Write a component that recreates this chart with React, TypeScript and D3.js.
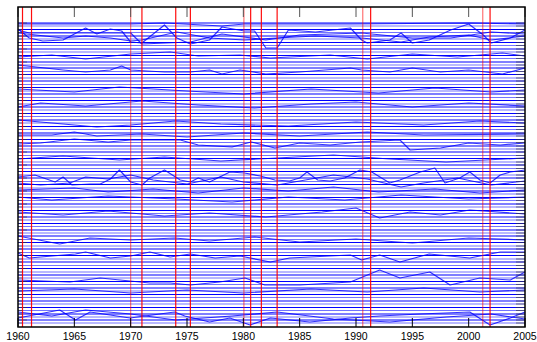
import React from "react";
import * as d3 from "d3";

// ---- data ----
const tickYears = [1960, 1965, 1970, 1975, 1980, 1985, 1990, 1995, 2000, 2005];

// level (depth index) of the flat series, top to bottom
const flatLevels = [
  16, 19, 22.5, 25.5, 29, 32, 35.5, 38.5, 42, 45, 48.5, 51.5, 55, 58, 61, 64.5, 67.5, 71, 74,
  77.5, 80.5, 84, 87, 90.5, 93.5, 97, 100, 103, 106.5, 109.5, 113, 116, 119.5, 122.5, 126, 129,
  132.5, 135.5, 139, 142, 145, 148.5, 151.5, 155, 158, 161.5, 164.5, 168, 171, 174.5, 177.5,
  181, 184, 187, 190.5, 193.5, 197, 200, 203.5, 206.5, 210, 213, 216.5, 219.5, 223, 226, 229,
  232.5, 235.5, 239, 242, 245.5, 248.5, 252, 255, 258.5, 261.5, 265, 268, 271, 274.5, 277.5,
  281, 284, 287.5, 290.5, 294, 297, 300.5, 303.5, 307, 310, 313, 316,
];

type Pt = [number, number];
const w1: Pt[] = [[1960,22],[1961,31],[1962.2,34],[1964,33],[1966,21],[1967,27],[1968.2,22],[1969.2,24],[1970,35],[1971,36],[1973,18],[1974.1,31],[1975.3,37],[1977,33],[1978.1,20],[1980.1,24],[1981,24],[1982,41],[1983,41],[1984,23],[1986.4,25],[1989.5,21],[1990.5,33],[1991,36],[1993,33],[1994,26],[1995,36],[1996.5,33],[1998.4,23],[2000,17],[2001.3,28],[2002,36],[2003.7,31],[2005,23]];
const w2: Pt[] = [[1960,26],[1964,31],[1966,29],[1968.2,31],[1970,34],[1971,33],[1974.1,25],[1977,31],[1980.1,33],[1983,31],[1986.4,29],[1990.5,31],[1994,35],[1996.5,30],[2000,28],[2002,33],[2005,29]];
const w3: Pt[] = [[1960,23],[1961,26],[1970,26],[1971,37],[1975.3,35],[1978.1,27],[1982,33],[1985,28],[1990.5,26],[1995,31],[1998.4,31],[2002,25],[2005,27]];
const w4: Pt[] = [[1960,17],[1970,17],[1973,16],[1978.1,19],[1980.1,17],[1989.5,17],[2000,16],[2005,17]];
const w5: Pt[] = [[1960,58],[1964,63],[1966,65],[1968.2,63],[1969.2,59],[1970,63],[1973,65],[1975.3,65],[1977,63],[1978.1,67],[1979.7,63],[1982,67],[1985,65],[1989.5,61],[1990.5,63],[1993,65],[1995,61],[1997.5,65],[2000,63],[2003,67],[2005,61]];
const w6: Pt[] = [[1960,50],[1963,48],[1966,52],[1970,47],[1973.5,45],[1976,49],[1979.7,48],[1982.4,51],[1987.7,48],[1991,52],[1995,47],[1999,50],[2003,46],[2005,49]];
const w7: Pt[] = [[1960,82],[1965,85],[1969,80],[1975,84],[1980,87],[1986,82],[1992,86],[1997,81],[2002,85],[2005,83]];
const w8: Pt[] = [[1960,100],[1962,96],[1966,99],[1971,94],[1976,98],[1981,101],[1986,97],[1990,95],[1995,100],[2000,96],[2005,99]];
const w9: Pt[] = [[1960,113],[1963,116],[1967,120],[1970,118],[1974,114],[1978,117],[1984,119],[1990,115],[1996,118],[2001,114],[2005,116]];
const w10: Pt[] = [[1960,128],[1963,128],[1965,125],[1967,129],[1971,127],[1975,130],[1980,126],[1985,129],[1991,125],[1996,128],[2005,127]];
const w11: Pt[] = [[1960,137],[1962,136],[1965,132],[1968,135],[1970,133],[1974.4,133],[1976,138],[1979,140],[1980.7,135],[1982.8,141],[1985,136],[1987.7,138],[1990.4,135],[1993.9,133],[1994.8,143],[1997.5,141],[2000,136],[2002.8,138],[2005,136]];
const w12: Pt[] = [[1960,170],[1961.5,168],[1963.3,175],[1964,170],[1964.8,178],[1966.4,177],[1967.3,177],[1968.2,172],[1969,163],[1970,175],[1971,178],[1971.7,171],[1973,163],[1974.4,173],[1975.3,175],[1976,171],[1977,175],[1978.8,165],[1980.1,166],[1981.5,169],[1982.8,173],[1984.1,174],[1985,171],[1985.65,165],[1986.6,173],[1987.7,174],[1989,171],[1990.35,163],[1991.4,165],[1993,176],[1993.9,173],[1995.7,165],[1997,161],[1997.9,176],[1999.2,171],[2000.1,165],[2001,173],[2001.9,176],[2002.8,168],[2003.7,165],[2005,163]];
const w13: Pt[] = [[1960,176],[1962,178],[1964.6,176],[1966,170],[1968,172],[1970,168],[1972,173],[1975,177],[1978,170],[1980,175],[1983,178],[1986,172],[1988,168],[1991,172],[1994,180],[1996,176],[1999,171],[2002,178],[2005,174]];
const w14: Pt[] = [[1960,183],[1965,181],[1968,185],[1972,182],[1976,186],[1980,181],[1984,184],[1988,180],[1992,185],[1997,182],[2001,186],[2005,183]];
const w15: Pt[] = [[1960,205],[1964,208],[1968,204],[1973,209],[1977,206],[1982,210],[1987,205],[1990,201],[1992.1,211],[1994.8,205],[1997.5,208],[2000.1,203],[2005,207]];
const w16: Pt[] = [[1960,229],[1963.7,237],[1966.4,231],[1970,233],[1973.9,231],[1977,234],[1981,230],[1985,235],[1990,232],[1995,236],[2000,231],[2005,233]];
const w17: Pt[] = [[1960,246],[1961,251],[1965.1,247],[1966,245],[1968.2,251],[1970,249],[1971.7,245],[1973.5,250],[1975.3,247],[1977.5,251],[1979.7,249],[1982.4,255],[1984.1,251],[1989.5,248],[1990.5,253],[1992.1,248],[1993.9,255],[1996.5,247],[2000.1,251],[2002.8,245],[2005,245]];
const w18: Pt[] = [[1960,273],[1964.6,275],[1967.3,271],[1971.7,276],[1973.5,276],[1975.3,278],[1977.9,275],[1980.15,271],[1981.9,278],[1985,278],[1989.5,275],[1992.1,263],[1993.9,271],[1996.55,265],[1998.35,278],[2001,271],[2003.7,273],[2005,265]];
const w19: Pt[] = [[1960,311],[1963.7,303],[1965.1,313],[1966.4,305],[1969.95,311],[1973.9,305],[1974.8,309],[1977,315],[1978.8,311],[1980.6,318],[1982.4,311],[1985.9,315],[1989.5,311],[1992.1,309],[1995.7,307],[2000.1,305],[2001.9,318],[2003.7,311],[2005,305]];
const w20: Pt[] = [[1960,305],[1963,309],[1966,303],[1970,307],[1974,313],[1979,309],[1983,305],[1988,312],[1993,315],[1998,310],[2002,307],[2005,312]];
const w21: Pt[] = [[1960,152],[1964,149],[1969,153],[1973,150],[1978,154],[1983,151],[1988,148],[1993,152],[1998,155],[2005,151]];
const w22: Pt[] = [[1960,190],[1963,193],[1968,189],[1974,192],[1979,195],[1984,190],[1989,193],[1994,188],[2000,192],[2005,190]];
const w23: Pt[] = [[1960,284],[1965,282],[1970,286],[1975,283],[1980,286],[1986,282],[1991,285],[1996,281],[2001,285],[2005,283]];
const wavySeries = [w1, w2, w3, w4, w5, w6, w7, w8, w9, w10, w11, w12, w13, w14, w15, w16, w17, w18, w19, w20, w21, w22, w23];

// event years (vertical markers); kind "a" = first of a pair, "b" = second
const eventYears = [1960.4, 1961.2, 1970.0, 1971.0, 1974.0, 1975.3, 1980.05, 1980.65, 1981.6, 1983.0, 1990.6, 1991.3, 2001.25, 2001.9];
const eventKinds = ["b", "b", "a", "b", "b", "b", "a", "b", "b", "b", "a", "b", "a", "b"];

// ---- chart ----
const W = 537;
const H = 342;
const M = { left: 18, right: 12, top: 7, bottom: 15 };

export default function App() {
  const x = d3.scaleLinear().domain([1960, 2005]).range([M.left, W - M.right]);
  const y = d3.scaleLinear().domain([0, 320]).range([M.top, H - M.bottom]);
  const line = d3
    .line<Pt>()
    .x((d) => x(d[0]))
    .y((d) => y(d[1]));
  const x0 = x(1960);
  const x1 = x(2005);
  const yTop = y(0);
  const yBot = y(320);

  return (
    <svg
      width={W}
      height={H}
      style={{ position: "absolute", left: 0, top: 0, background: "#fff" }}
      fontFamily="'Liberation Sans', Arial, sans-serif"
    >
      <rect x={0} y={0} width={W} height={H} fill="#fff" />
      <g>
        {flatLevels.map((v, i) => (
          <path
            key={"f" + i}
            d={line([[1960, v], [2005, v]] as Pt[]) || ""}
            fill="none"
            stroke="#0000ff"
            strokeOpacity={i % 2 === 0 ? 1 : 0.55}
            strokeWidth={i % 2 === 0 ? 1.2 : 1}
          />
        ))}
        {wavySeries.map((s, i) => (
          <path
            key={"w" + i}
            d={line(s) || ""}
            fill="none"
            stroke="#0000ff"
            strokeOpacity={0.8}
            strokeWidth={1.2}
            strokeLinejoin="round"
          />
        ))}
      </g>
      {/* y ticks left & right */}
      <g stroke="#333" strokeOpacity={0.6} strokeWidth={1}>
        {flatLevels.map((v, i) => (
          <line key={"lt" + i} x1={x0} x2={x0 + (i % 4 === 0 ? 9 : 5)} y1={y(v)} y2={y(v)} />
        ))}
        {flatLevels.map((v, i) => (
          <line key={"rt" + i} x1={x1 - 9} x2={x1} y1={y(v)} y2={y(v)} />
        ))}
      </g>
      {/* event lines */}
      <g>
        {eventYears.map((yr, i) => (
          <line
            key={"e" + i}
            x1={x(yr)}
            x2={x(yr)}
            y1={yTop}
            y2={yBot}
            stroke="#ff0000"
            strokeOpacity={eventKinds[i] === "a" ? 0.55 : 0.95}
            strokeWidth={1.2}
          />
        ))}
      </g>
      {/* x ticks */}
      <g>
        {tickYears.map((t) => (
          <g key={"t" + t}>
            <line x1={x(t)} x2={x(t)} y1={yTop} y2={yTop + 10} stroke="#555" strokeWidth={1} />
            <line x1={x(t)} x2={x(t)} y1={yBot} y2={yBot - 9} stroke="#000" strokeWidth={1} />
            <text x={x(t)} y={340} textAnchor="middle" fontSize={10.5} fill="#000">
              {t}
            </text>
          </g>
        ))}
      </g>
      {/* frame */}
      <rect x={x0} y={yTop} width={x1 - x0} height={yBot - yTop} fill="none" stroke="#000" strokeWidth={1.5} />
    </svg>
  );
}
